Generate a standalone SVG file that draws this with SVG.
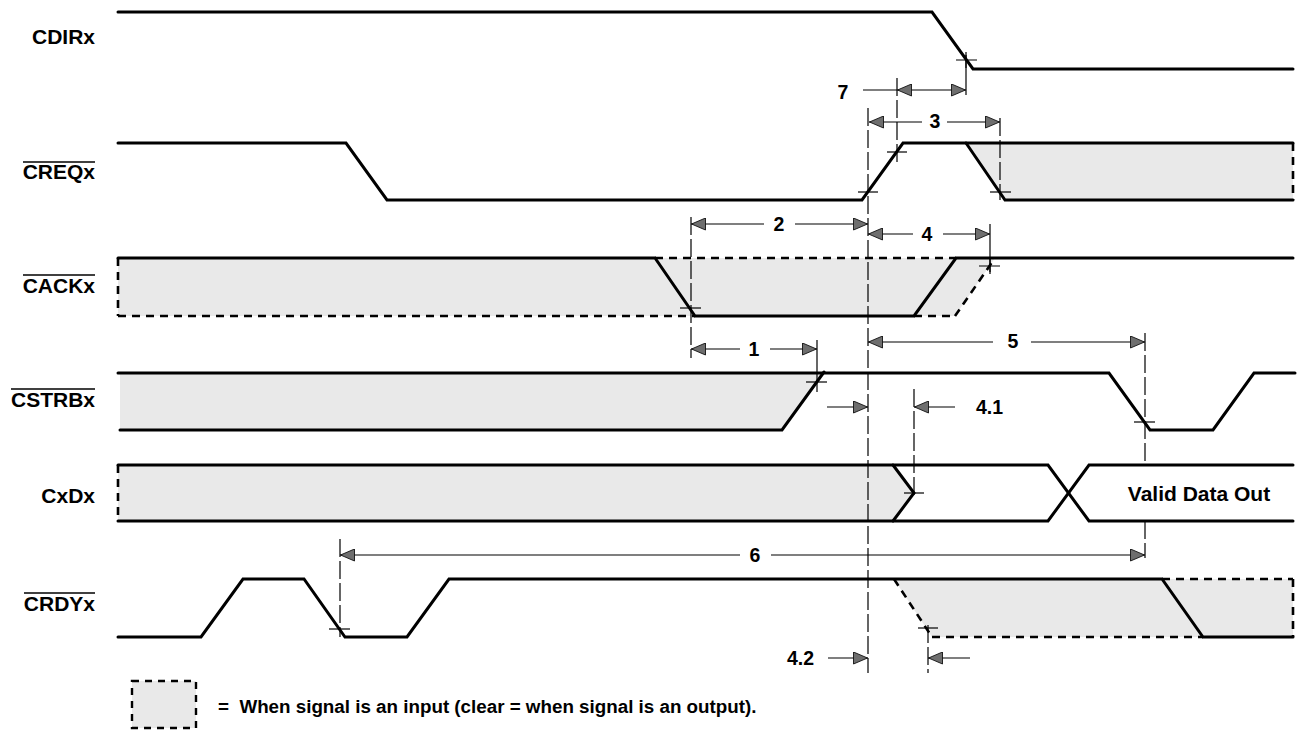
<svg xmlns="http://www.w3.org/2000/svg" width="1302" height="730" viewBox="0 0 1302 730">
<style>
  .sig { fill: none; stroke: #000; stroke-width: 3; stroke-linejoin: miter; stroke-linecap: round; }
  .dsig { fill: none; stroke: #000; stroke-width: 2.6; stroke-dasharray: 8 6; }
  .shade { fill: #e9e9e9; stroke: none; }
  .dim { stroke: #000; stroke-width: 1.2; fill: none; }
  .guide { stroke: #000; stroke-width: 1.2; fill: none; stroke-dasharray: 18 4; }
  .tick { stroke: #000; stroke-width: 1.2; fill: none; }
  .lbl { font-family: "Liberation Sans", Arial, sans-serif; font-weight: bold; font-size: 21px; fill: #000; }
  .num { font-family: "Liberation Sans", Arial, sans-serif; font-weight: bold; font-size: 19.5px; fill: #000; }
  .leg { font-family: "Liberation Sans", Arial, sans-serif; font-weight: bold; font-size: 18.8px; fill: #000; }
  .over { stroke: #000; stroke-width: 1.6; }
</style>
<defs>
  <marker id="ah" viewBox="0 0 15 13" refX="15" refY="6.5" markerWidth="15" markerHeight="13" markerUnits="userSpaceOnUse" orient="auto-start-reverse">
    <path d="M0.5,0.5 L14.5,6.5 L0.5,12.5 Z" fill="#6e6e6e" stroke="#111" stroke-width="0.9"/>
  </marker>
</defs>
<rect x="0" y="0" width="1302" height="730" fill="#fff"/>

<!-- Signal labels -->
<g id="labels">
  <text class="lbl" x="95" y="44" text-anchor="end">CDIRx</text>
  <text class="lbl" x="95" y="179" text-anchor="end">CREQx</text>
  <line class="over" x1="23" y1="162" x2="95" y2="162"/>
  <text class="lbl" x="95" y="293" text-anchor="end">CACKx</text>
  <line class="over" x1="23" y1="275" x2="95" y2="275"/>
  <text class="lbl" x="95" y="407" text-anchor="end">CSTRBx</text>
  <line class="over" x1="11" y1="389" x2="95" y2="389"/>
  <text class="lbl" x="95" y="503" text-anchor="end">CxDx</text>
  <text class="lbl" x="95" y="611" text-anchor="end">CRDYx</text>
  <line class="over" x1="24" y1="593" x2="95" y2="593"/>
</g>

<!-- CDIRx -->
<g id="cdirx">
  <path class="sig" d="M118,12 H932 L973,69 H1293"/>
</g>

<!-- CREQx -->
<g id="creqx">
  <polygon class="shade" points="966,143 1293,143 1293,200 1005,200"/>
  <path class="sig" d="M118,143 H346 L387,200 H862 L903,143 H1293"/>
  <path class="sig" d="M966,143 L1005,200 H1293"/>
  <line class="dsig" x1="1293" y1="143" x2="1293" y2="200"/>
</g>

<!-- CACKx -->
<g id="cackx">
  <polygon class="shade" points="118,258 995,258 955,316 118,316"/>
  <path class="sig" d="M118,258 H655 L695,316 H914 L956,258 H1293"/>
  <line class="dsig" x1="655" y1="258" x2="956" y2="258"/>
  <line class="dsig" x1="118" y1="316" x2="695" y2="316"/>
  <line class="dsig" x1="914" y1="316" x2="955" y2="316"/>
  <line class="dsig" x1="955" y1="316" x2="995" y2="258"/>
  <line class="dsig" x1="118" y1="258" x2="118" y2="316"/>
</g>

<!-- CSTRBx -->
<g id="cstrbx">
  <polygon class="shade" points="120,373 823,373 782,430 120,430"/>
  <path class="sig" d="M118,373 H1109 L1150,430 H1213 L1254,373 H1295"/>
  <path class="sig" d="M120,430 H782 L824,372"/>
</g>

<!-- CxDx -->
<g id="cxdx">
  <polygon class="shade" points="118,465 893,465 914,493 893,521 118,521"/>
  <path class="sig" d="M118,465 H1048 L1089,521 H1293"/>
  <path class="sig" d="M118,521 H1048 L1089,465 H1293"/>
  <path class="sig" d="M893,465 L914,493 L893,521"/>
  <line class="dsig" x1="118" y1="465" x2="118" y2="521"/>
  <text class="lbl" x="1199" y="501" text-anchor="middle">Valid Data Out</text>
</g>

<!-- CRDYx -->
<g id="crdyx">
  <polygon class="shade" points="894,579 1293,579 1293,637 932,637"/>
  <path class="sig" d="M118,637 H201 L243,579 H304 L345,637 H407 L449,579 H1162 L1203,637 H1293"/>
  <line class="dsig" x1="894" y1="579" x2="932" y2="637"/>
  <line class="dsig" x1="932" y1="637" x2="1203" y2="637"/>
  <line class="dsig" x1="1162" y1="579" x2="1293" y2="579"/>
  <line class="dsig" x1="1293" y1="579" x2="1293" y2="637"/>
</g>

<!-- Timing connectors -->
<g id="connectors">
  <!-- guide lines -->
  <line class="guide" x1="868" y1="108" x2="868" y2="673"/>
  <line class="guide" x1="897" y1="78" x2="897" y2="162"/>
  <line class="guide" x1="1000" y1="118" x2="1000" y2="200"/>
  <line class="tick" x1="966" y1="55" x2="966" y2="95"/>
  <line class="tick" x1="990" y1="224" x2="990" y2="272"/>
  <line class="guide" x1="691" y1="217" x2="691" y2="358"/>
  <line class="tick" x1="817" y1="340" x2="817" y2="392"/>
  <line class="guide" x1="1145" y1="333" x2="1145" y2="466"/>
  <line class="guide" x1="1145" y1="521" x2="1145" y2="558"/>
  <line class="guide" x1="914" y1="389" x2="914" y2="495"/>
  <line class="guide" x1="340" y1="539" x2="340" y2="637"/>
  <line class="guide" x1="928" y1="625" x2="928" y2="673"/>

  <!-- crosses -->
  <path class="tick" d="M956,60 H977 M966,52 V68"/>
  <path class="tick" d="M858,192 H878"/>
  <path class="tick" d="M887,152 H907"/>
  <path class="tick" d="M990,192 H1011"/>
  <path class="tick" d="M680,308 H701"/>
  <path class="tick" d="M979,266 H1000 M990,258 V274"/>
  <path class="tick" d="M806,382 H827"/>
  <path class="tick" d="M1134,422 H1155"/>
  <path class="tick" d="M904,493 H924"/>
  <path class="tick" d="M329,629 H350"/>
  <path class="tick" d="M918,628 H938"/>

  <!-- 7 -->
  <line class="dim" x1="863" y1="90" x2="897" y2="90"/>
  <line class="dim" x1="897" y1="90" x2="966" y2="90" marker-start="url(#ah)" marker-end="url(#ah)"/>
  <!-- 3 -->
  <line class="dim" x1="869" y1="122" x2="922" y2="122" marker-start="url(#ah)"/>
  <line class="dim" x1="947" y1="122" x2="1000" y2="122" marker-end="url(#ah)"/>
  <!-- 2 -->
  <line class="dim" x1="691" y1="224" x2="764" y2="224" marker-start="url(#ah)"/>
  <line class="dim" x1="795" y1="224" x2="868" y2="224" marker-end="url(#ah)"/>
  <!-- 4 -->
  <line class="dim" x1="868" y1="234" x2="913" y2="234" marker-start="url(#ah)"/>
  <line class="dim" x1="943" y1="234" x2="990" y2="234" marker-end="url(#ah)"/>
  <!-- 1 -->
  <line class="dim" x1="691" y1="349" x2="740" y2="349" marker-start="url(#ah)"/>
  <line class="dim" x1="770" y1="349" x2="817" y2="349" marker-end="url(#ah)"/>
  <!-- 5 -->
  <line class="dim" x1="868" y1="342" x2="993" y2="342" marker-start="url(#ah)"/>
  <line class="dim" x1="1031" y1="342" x2="1145" y2="342" marker-end="url(#ah)"/>
  <!-- 4.1 -->
  <line class="dim" x1="827" y1="407" x2="868" y2="407" marker-end="url(#ah)"/>
  <line class="dim" x1="955" y1="407" x2="914" y2="407" marker-end="url(#ah)"/>
  <!-- 6 -->
  <line class="dim" x1="340" y1="555" x2="740" y2="555" marker-start="url(#ah)"/>
  <line class="dim" x1="771" y1="555" x2="1145" y2="555" marker-end="url(#ah)"/>
  <!-- 4.2 -->
  <line class="dim" x1="828" y1="658" x2="868" y2="658" marker-end="url(#ah)"/>
  <line class="dim" x1="970" y1="658" x2="928" y2="658" marker-end="url(#ah)"/>
</g>

<g id="dim-labels">
  <text class="num" x="843" y="99" text-anchor="middle">7</text>
  <text class="num" x="935" y="128" text-anchor="middle">3</text>
  <text class="num" x="779" y="231" text-anchor="middle">2</text>
  <text class="num" x="927" y="241" text-anchor="middle">4</text>
  <text class="num" x="754" y="356" text-anchor="middle">1</text>
  <text class="num" x="1013" y="348" text-anchor="middle">5</text>
  <text class="num" x="976" y="414">4.1</text>
  <text class="num" x="755" y="562" text-anchor="middle">6</text>
  <text class="num" x="787" y="665">4.2</text>
</g>

<!-- Legend -->
<g id="legend">
  <rect x="132" y="681" width="64" height="47" fill="#e9e9e9" stroke="#000" stroke-width="2.4" stroke-dasharray="7 6"/>
  <text class="leg" x="218" y="713" xml:space="preserve">=  When signal is an input (clear = when signal is an output).</text>
</g>
</svg>
